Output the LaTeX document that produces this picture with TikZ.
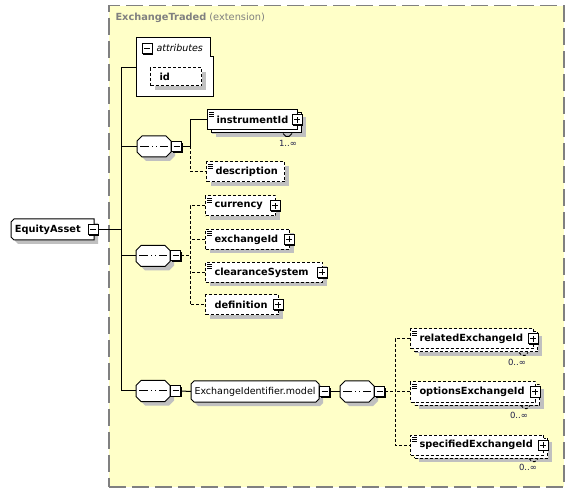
\documentclass[tikz,border=0pt]{standalone}
\usepackage{fontspec}
\setmainfont{DejaVu Sans}
\usetikzlibrary{%
   positioning,%
   shadows%
}
\definecolor{extfill}{HTML}{FFFFC8}
\definecolor{extline}{HTML}{808080}
\definecolor{shade}{HTML}{C0C0C0}
\definecolor{countc}{HTML}{20204A}
\hyphenpenalty=10000

% a box with its corners cut off
\makeatletter
\pgfkeys{/pgf/cut left/.initial=3pt,/pgf/cut right/.initial=3pt}
\newdimen\cbl \newdimen\cbr \newdimen\cbt \newdimen\cbb
\newdimen\cbcl \newdimen\cbcr
\pgfdeclareshape{cut box}{%
  \inheritsavedanchors[from=rectangle]%
  \inheritanchorborder[from=rectangle]%
  \inheritanchor[from=rectangle]{center}%
  \inheritanchor[from=rectangle]{north}%
  \inheritanchor[from=rectangle]{south}%
  \inheritanchor[from=rectangle]{east}%
  \inheritanchor[from=rectangle]{west}%
  \inheritanchor[from=rectangle]{north east}%
  \inheritanchor[from=rectangle]{north west}%
  \inheritanchor[from=rectangle]{south east}%
  \inheritanchor[from=rectangle]{south west}%
  \backgroundpath{%
    \pgfmathsetlength\cbcl{\pgfkeysvalueof{/pgf/cut left}}%
    \pgfmathsetlength\cbcr{\pgfkeysvalueof{/pgf/cut right}}%
    \southwest \cbl=\pgf@x \cbb=\pgf@y
    \northeast \cbr=\pgf@x \cbt=\pgf@y
    \pgfpathmoveto{\pgfqpoint{\cbl}{\dimexpr\cbt-\cbcl\relax}}%
    \pgfpathlineto{\pgfqpoint{\dimexpr\cbl+\cbcl\relax}{\cbt}}%
    \pgfpathlineto{\pgfqpoint{\dimexpr\cbr-\cbcr\relax}{\cbt}}%
    \pgfpathlineto{\pgfqpoint{\cbr}{\dimexpr\cbt-\cbcr\relax}}%
    \pgfpathlineto{\pgfqpoint{\cbr}{\dimexpr\cbb+\cbcr\relax}}%
    \pgfpathlineto{\pgfqpoint{\dimexpr\cbr-\cbcr\relax}{\cbb}}%
    \pgfpathlineto{\pgfqpoint{\dimexpr\cbl+\cbcl\relax}{\cbb}}%
    \pgfpathlineto{\pgfqpoint{\cbl}{\dimexpr\cbb+\cbcl\relax}}%
    \pgfpathclose
  }%
}
\makeatother

\begin{document}
\begin{tikzpicture}[x=1pt,y=-1pt,line width=1pt,
	element/.style={
	rectangle,draw,fill=white,text width=#1,
	minimum height=20pt,inner xsep=9pt,inner ysep=0pt,
	align=left,anchor=west,
	font=\fontsize{9.8}{11}\selectfont\bfseries,
	drop shadow={shadow xshift=4pt,shadow yshift=-4pt,fill=shade,opacity=1}
	},typed/.style={
	path picture={\foreach \k in {2,4,6}
	  \draw[solid,line width=.7pt] ([shift={(1.5pt,-\k pt)}]path picture bounding box.north west) -- ++(5pt,0pt);}
	},multi/.style={
	drop shadow={shadow xshift=8pt,shadow yshift=-7pt,fill=shade,opacity=1},
	general shadow={shadow xshift=4pt,shadow yshift=-3pt,draw,fill=white}
	},opt/.style={
	dash pattern=on 3pt off 2pt
	},root/.style={
	cut box,cut left=3pt,cut right=0pt,outer sep=0pt,
	draw,fill=white,anchor=west,text width=75pt,align=left,
	minimum height=21pt,inner xsep=4pt,inner ysep=0pt,
	font=\fontsize{9.8}{11}\selectfont\bfseries,
	drop shadow={shadow xshift=4pt,shadow yshift=-4pt,fill=shade,opacity=1}
	},group/.style={
	cut box,cut left=3pt,cut right=3pt,outer sep=0pt,
	draw,fill=white,anchor=west,minimum width=128pt,minimum height=21pt,
	inner xsep=2pt,inner ysep=0pt,
	font=\fontsize{9.5}{11}\selectfont,
	drop shadow={shadow xshift=4pt,shadow yshift=-4pt,fill=shade,opacity=1}
	},seq/.style={
	cut box,cut left=5pt,cut right=5pt,outer sep=0pt,
	draw,fill=white,anchor=west,minimum width=34pt,minimum height=21pt,inner sep=0pt,
	drop shadow={shadow xshift=4pt,shadow yshift=-4pt,fill=shade,opacity=1},
	path picture={
	  \draw ([xshift=3pt]path picture bounding box.west) -- ([xshift=-3pt]path picture bounding box.east);
	  \foreach \d in {-4,0,4}
	    \fill ([xshift=\d pt]path picture bounding box.center) +(-1.5pt,-1.5pt) rectangle +(1.5pt,1.5pt);}
	},pm/.style={
	rectangle,draw,fill=white,minimum size=10pt,inner sep=0pt,
	drop shadow={shadow xshift=1.2pt,shadow yshift=-1.2pt,fill=black,opacity=1}
	},minus/.style={pm,
	path picture={\draw[solid] ([xshift=2pt]path picture bounding box.west) -- ([xshift=-2pt]path picture bounding box.east);}
	},plus/.style={pm,
	path picture={\draw[solid] ([xshift=2pt]path picture bounding box.west) -- ([xshift=-2pt]path picture bounding box.east)
	  ([yshift=2pt]path picture bounding box.south) -- ([yshift=-2pt]path picture bounding box.north);}
	},count/.style={
	inner sep=0pt,font=\fontsize{8.5}{10}\selectfont,text=countc
	},extbox/.style={
	rectangle,anchor=north west,fill=extfill,draw=extline,line width=1.5pt,
	dash pattern=on 17pt off 6pt
	}
]

%(x,y) in pixels, y downwards
\useasboundingbox (0,0) rectangle (574,492);
\node[extbox,minimum width=455pt,minimum height=481pt] (ext) at (108,5) {};
\node[anchor=west,inner sep=0pt,text=extline,font=\fontsize{9.8}{11}\selectfont] (title) at (115,18) {\textbf{ExchangeTraded} (extension)};

% root
\node[root] (eq) at (11,229.5) {EquityAsset};
\node[minus] (eqM) at ([xshift=-1pt]eq.east) {};
\coordinate (trunk) at (121,0);
\coordinate (br1) at (190,0);
\coordinate (br2) at (395,0);

% attributes
\draw[fill=white] (136,38) -- (210,38) -- (210,57) -- (213,57) -- (213,97) -- (136,97) -- cycle;
\coordinate (attrW) at (136,68);
\node[minus] (attrM) at (147,49) {};
\node[anchor=west,inner sep=0pt,font=\fontsize{9.5}{11}\selectfont\itshape] (attrT) at (156,48) {attributes};
\node[element=33pt,opt,minimum height=18pt] (id) at (150,77) {id};

% first sequence
\node[seq] (seq1) at (137,146.5) {};
\node[minus,anchor=west] (seq1M) at (seq1.east) {};
\node[element=72pt,typed,multi] (instr) at (207,120) {instrumentId};
\node[plus] (instrP) at ([xshift=-1pt]instr.east) {};
\draw ([shift={(-15pt,-3pt)}]instr.south east) -- ++(3,3) -- ++(3,0) -- ++(3,-3);
\node[count] (instrC) at ([shift={(-10pt,-13pt)}]instr.south east) {1..∞};
\node[element=60pt,typed,opt] (descr) at (206,172) {description};

% second sequence
\node[seq] (seq2) at (136,256) {};
\node[minus,anchor=west] (seq2M) at (seq2.east) {};
\node[element=52pt,typed,opt] (curr) at (205,206) {currency};
\node[plus] (currP) at ([xshift=-1pt]curr.east) {};
\node[element=66pt,typed,opt] (exch) at (205,239.5) {exchangeId};
\node[plus] (exchP) at ([xshift=-1pt]exch.east) {};
\node[element=99pt,typed,opt] (clear) at (205,272.5) {clearanceSystem};
\node[plus] (clearP) at ([xshift=-1pt]clear.east) {};
\node[element=55pt,opt] (defn) at (205,305) {definition};
\node[plus] (defnP) at ([xshift=-1pt]defn.east) {};

% third sequence
\node[seq] (seq3) at (136,391) {};
\node[minus,anchor=west] (seq3M) at (seq3.east) {};
\node[group] (grp) at (191,391.5) {ExchangeIdentifier.model};
\node[minus,anchor=west] (grpM) at (grp.east) {};
\node[seq] (seq4) at (340,391.5) {};
\node[minus,anchor=west] (seq4M) at (seq4.east) {};
\node[element=105pt,typed,opt,multi] (rel) at (410,339) {relatedExchangeId};
\node[plus] (relP) at ([xshift=-1pt]rel.east) {};
\draw[opt] ([shift={(-15pt,-3pt)}]rel.south east) -- ++(3,3) -- ++(3,0) -- ++(3,-3);
\node[count] (relC) at ([shift={(-17pt,-13pt)}]rel.south east) {0..∞};
\node[element=107pt,typed,opt,multi] (opts) at (410,392) {optionsExchangeId};
\node[plus] (optsP) at ([xshift=-1pt]opts.east) {};
\draw[opt] ([shift={(-15pt,-3pt)}]opts.south east) -- ++(3,3) -- ++(3,0) -- ++(3,-3);
\node[count] (optsC) at ([shift={(-17pt,-13pt)}]opts.south east) {0..∞};
\node[element=115pt,typed,opt,multi] (spec) at (410,445) {specifiedExchangeId};
\node[plus] (specP) at ([xshift=-1pt]spec.east) {};
\draw[opt] ([shift={(-15pt,-3pt)}]spec.south east) -- ++(3,3) -- ++(3,0) -- ++(3,-3);
\node[count] (specC) at ([shift={(-16pt,-12pt)}]spec.south east) {0..∞};

% connectors
\draw (eqM.east) -- (eqM.east -| trunk);
\draw (attrW) -| (trunk |- seq3.west) -- (seq3.west);
\draw (seq1.west) -- (seq1.west -| trunk);
\draw (seq2.west) -- (seq2.west -| trunk);
\draw (seq1M.east) -- (seq1M.east -| br1) |- (instr.west);
\draw[opt] (seq1M.east -| br1) |- (descr.west);
\draw[opt] (seq2M.east) -- (seq2M.east -| br1);
\draw[opt] (curr.west) -| (br1 |- defn.west) -- (defn.west);
\draw[opt] (exch.west) -- (exch.west -| br1);
\draw[opt] (clear.west) -- (clear.west -| br1);
\draw (seq3M.east) -- (grp.west);
\draw (grpM.east) -- (seq4.west);
\draw[opt] (seq4M.east) -- (seq4M.east -| br2);
\draw[opt] (rel.west) -| (br2 |- spec.west) -- (spec.west);
\draw[opt] (opts.west) -- (opts.west -| br2);

\end{tikzpicture}
\end{document}
